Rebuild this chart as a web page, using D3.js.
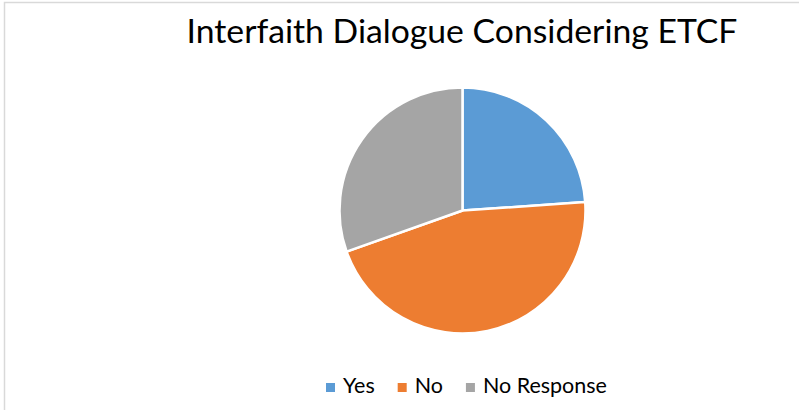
<!DOCTYPE html>
<html>
<head lang="en">
  <title>Interfaith Dialogue Considering ETCF</title>
  <script src="https://d3js.org/d3.v7.min.js" charset="utf-8"></script>
  <style>
    body { margin: 0; background: #fff; }
  </style>
</head>
<body>
  <script>

    // data
    var categories = ["Yes", "No", "No Response"];
    var values = [11, 21, 14];
    var colors = ["#5b9bd5", "#ed7d31", "#a5a5a5"];
    var title = "Interfaith Dialogue Considering ETCF";

    var width = 799;
    var height = 410;
    var font = "Lato, 'Open Sans', sans-serif";

    var svg = d3.select("body")
      .append("svg")
      .attr("width", width)
      .attr("height", height);

    svg.append("rect")
      .attr("width", width)
      .attr("height", height)
      .attr("fill", "#fff");

    // chart area border (right and bottom sides are cropped off)
    svg.append("rect")
      .attr("x", 4.5)
      .attr("y", 2.5)
      .attr("width", width + 10)
      .attr("height", height + 10)
      .attr("fill", "none")
      .attr("stroke", "#d9d9d9")
      .attr("stroke-width", 1.5);

    // title, sized to span the same width as the reference
    var t = svg.append("text")
      .attr("x", 462)
      .attr("y", 43)
      .attr("text-anchor", "middle")
      .attr("font-family", font)
      .attr("font-size", 32)
      .attr("fill", "#000")
      .text(title);
    var tw = t.node().getComputedTextLength();
    t.attr("font-size", 32 * 551 / tw);

    // PIE
    var cx = 462.5, cy = 210.5, r = 123;

    var pie = d3.pie()
      .sort(null)
      .value(function(d) { return d; });

    var arc = d3.arc()
      .innerRadius(0)
      .outerRadius(r);

    svg.append("g")
      .attr("transform", "translate(" + cx + "," + cy + ")")
      .selectAll("path")
      .data(pie(values))
      .enter().append("path")
        .attr("d", arc)
        .attr("fill", function(d, i) { return colors[i]; })
        .attr("stroke", "#fff")
        .attr("stroke-width", 2.5)
        .attr("stroke-linejoin", "round");

    // LEGEND
    var legend = svg.append("g");
    var items = legend.selectAll("g")
      .data(categories)
      .enter().append("g");

    items.append("rect")
      .attr("y", -10)
      .attr("width", 9)
      .attr("height", 9)
      .attr("fill", function(d, i) { return colors[i]; });

    var labels = items.append("text")
      .attr("x", 17)
      .attr("y", 0)
      .attr("font-family", font)
      .attr("font-size", 20)
      .attr("fill", "#000")
      .text(function(d) { return d; });

    // scale legend font so "No Response" is as wide as in the reference
    var nrw = labels.filter(function(d, i) { return i === 2; }).node().getComputedTextLength();
    labels.attr("font-size", 20 * 124 / nrw);

    var lx = 0;
    items.each(function() {
      var g = d3.select(this);
      g.attr("transform", "translate(" + lx + ",0)");
      lx += 17 + g.select("text").node().getComputedTextLength() + 23;
    });

    legend.attr("transform", "translate(326,393)");

  </script>
</body>
</html>
